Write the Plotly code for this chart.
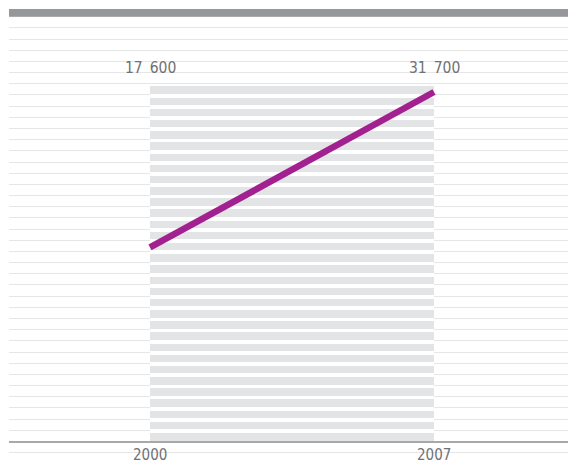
import plotly.graph_objects as go

# ---- data ----
years = [2000, 2007]
values = [17600, 31700]
value_labels = ["17\u2002600", "31\u2002700"]
year_labels = ["2000", "2007"]

# ---- styling / scale helpers ----
W, H = 570, 465
M_L, M_R, M_T, M_B = 9, 2, 9, 2
VPP = 90.7            # value units per pixel
ZERO_PX = 441.5       # pixel row of value 0
GRID = 1014           # grid spacing in value units
N_BANDS = 32
x_px_per_year = 284 / 7

plot_top_px, plot_bot_px = M_T, H - M_B
y_max = (ZERO_PX - plot_top_px) * VPP
y_min = -(plot_bot_px - ZERO_PX) * VPP
x_min = years[0] - (150 - M_L) / x_px_per_year
x_max = years[1] + ((W - M_R) - 434) / x_px_per_year

FONT = "DejaVu Sans Condensed, Liberation Sans Narrow, sans-serif"
TXT = "#707174"

fig = go.Figure()

# striped band between the two years
band_mid = (years[0] + years[1]) / 2
band_w = years[1] - years[0]
bases = [k * GRID + 1.0 * VPP for k in range(N_BANDS)]
heights = [GRID - 3.7 * VPP for _ in range(N_BANDS)]
fig.add_trace(go.Bar(
    x=[band_mid] * N_BANDS, y=heights, base=bases, width=[band_w] * N_BANDS,
    marker=dict(color="#e3e4e6", line=dict(width=0)),
    hoverinfo="skip", showlegend=False,
))

# the value line
fig.add_trace(go.Scatter(
    x=years, y=values, mode="lines",
    line=dict(color="#a2208f", width=6.5),
    showlegend=False, hoverinfo="skip",
))

shapes = [
    # white under the band to hide gridlines there
    dict(type="rect", xref="x", yref="y", x0=years[0], x1=years[1],
         y0=0.5 * GRID, y1=(N_BANDS - 0.5) * GRID,
         fillcolor="white", line=dict(width=0), layer="between"),
    # top heavy grey bar
    dict(type="rect", xref="paper", yref="y", x0=0, x1=1,
         y0=38 * GRID, y1=y_max,
         fillcolor="#96979a", line=dict(width=0), layer="above"),
]

annotations = []
for x, t in zip(years, value_labels):
    annotations.append(dict(
        x=x, xref="x", y=1, yref="paper", yanchor="middle", xanchor="center",
        yshift=-(68 - M_T), text=t, showarrow=False,
        font=dict(family=FONT, size=15.5, color=TXT),
    ))
for x, t in zip(years, year_labels):
    annotations.append(dict(
        x=x, xref="x", y=0, yref="paper", yanchor="middle", xanchor="center",
        yshift=(plot_bot_px - 455), text=t, showarrow=False,
        font=dict(family=FONT, size=15, color=TXT),
    ))

fig.update_layout(
    width=W, height=H,
    margin=dict(l=M_L, r=M_R, t=M_T, b=M_B, pad=0),
    paper_bgcolor="white", plot_bgcolor="white",
    barmode="overlay", bargap=0,
    shapes=shapes, annotations=annotations,
    xaxis=dict(range=[x_min, x_max], showgrid=False, zeroline=False,
               showticklabels=False, ticks="", showline=False, fixedrange=True),
    yaxis=dict(range=[y_min, y_max], tick0=0, dtick=GRID, showgrid=True,
               gridcolor="#e6e6e6", gridwidth=1,
               zeroline=True, zerolinecolor="#a8a8a8", zerolinewidth=1.5,
               showticklabels=False, ticks="", showline=False, fixedrange=True),
)

fig.write_html("out.html", config={"displayModeBar": False})
